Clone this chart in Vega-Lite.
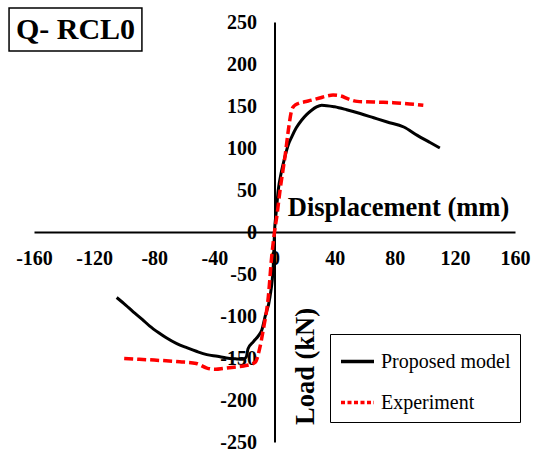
{
  "$schema": "https://vega.github.io/schema/vega-lite/v6.json",
  "width": 481,
  "height": 420,
  "autosize": {"type": "none"},
  "padding": {"left": 34, "top": 22, "right": 19, "bottom": 10},
  "background": "white",
  "config": {"view": {"stroke": null}, "font": "Liberation Serif"},
  "data": {
    "values": [
      {"series": "Proposed model", "i": 1, "x": -105, "y": -78},
      {"series": "Proposed model", "i": 2, "x": -99, "y": -87},
      {"series": "Proposed model", "i": 3, "x": -94, "y": -95},
      {"series": "Proposed model", "i": 4, "x": -88, "y": -104},
      {"series": "Proposed model", "i": 5, "x": -83, "y": -112},
      {"series": "Proposed model", "i": 6, "x": -77, "y": -120},
      {"series": "Proposed model", "i": 7, "x": -72, "y": -126},
      {"series": "Proposed model", "i": 8, "x": -65, "y": -133},
      {"series": "Proposed model", "i": 9, "x": -58, "y": -138},
      {"series": "Proposed model", "i": 10, "x": -52, "y": -142},
      {"series": "Proposed model", "i": 11, "x": -45, "y": -146},
      {"series": "Proposed model", "i": 12, "x": -38, "y": -148},
      {"series": "Proposed model", "i": 13, "x": -32, "y": -150},
      {"series": "Proposed model", "i": 14, "x": -26, "y": -151},
      {"series": "Proposed model", "i": 15, "x": -21, "y": -151.5},
      {"series": "Proposed model", "i": 16, "x": -18.8, "y": -149},
      {"series": "Proposed model", "i": 17, "x": -17.6, "y": -139},
      {"series": "Proposed model", "i": 18, "x": -14, "y": -130.5},
      {"series": "Proposed model", "i": 19, "x": -10.5, "y": -123},
      {"series": "Proposed model", "i": 20, "x": -8.5, "y": -117},
      {"series": "Proposed model", "i": 21, "x": -6.3, "y": -101},
      {"series": "Proposed model", "i": 22, "x": -3, "y": -77},
      {"series": "Proposed model", "i": 23, "x": -0.8, "y": -40},
      {"series": "Proposed model", "i": 24, "x": 0, "y": 0},
      {"series": "Proposed model", "i": 25, "x": 1.2, "y": 25},
      {"series": "Proposed model", "i": 26, "x": 2.5, "y": 50},
      {"series": "Proposed model", "i": 27, "x": 4.5, "y": 71},
      {"series": "Proposed model", "i": 28, "x": 7, "y": 90},
      {"series": "Proposed model", "i": 29, "x": 9, "y": 103},
      {"series": "Proposed model", "i": 30, "x": 11.4, "y": 113},
      {"series": "Proposed model", "i": 31, "x": 14.5, "y": 124},
      {"series": "Proposed model", "i": 32, "x": 18, "y": 133},
      {"series": "Proposed model", "i": 33, "x": 21.5, "y": 140},
      {"series": "Proposed model", "i": 34, "x": 24.7, "y": 145},
      {"series": "Proposed model", "i": 35, "x": 28, "y": 149},
      {"series": "Proposed model", "i": 36, "x": 31.4, "y": 151},
      {"series": "Proposed model", "i": 37, "x": 40, "y": 149},
      {"series": "Proposed model", "i": 38, "x": 48, "y": 145.5},
      {"series": "Proposed model", "i": 39, "x": 57, "y": 141},
      {"series": "Proposed model", "i": 40, "x": 66, "y": 136},
      {"series": "Proposed model", "i": 41, "x": 75, "y": 131},
      {"series": "Proposed model", "i": 42, "x": 86, "y": 125},
      {"series": "Proposed model", "i": 43, "x": 95, "y": 115},
      {"series": "Proposed model", "i": 44, "x": 103, "y": 107},
      {"series": "Proposed model", "i": 45, "x": 110, "y": 100},
      {"series": "Experiment", "i": 1, "x": -100, "y": -150.5},
      {"series": "Experiment", "i": 2, "x": -90, "y": -151.5},
      {"series": "Experiment", "i": 3, "x": -80, "y": -152.5},
      {"series": "Experiment", "i": 4, "x": -63, "y": -154.5},
      {"series": "Experiment", "i": 5, "x": -52, "y": -156.5},
      {"series": "Experiment", "i": 6, "x": -45, "y": -162},
      {"series": "Experiment", "i": 7, "x": -39, "y": -163.5},
      {"series": "Experiment", "i": 8, "x": -34, "y": -162.5},
      {"series": "Experiment", "i": 9, "x": -27, "y": -161},
      {"series": "Experiment", "i": 10, "x": -20.5, "y": -159.5},
      {"series": "Experiment", "i": 11, "x": -13, "y": -155.5},
      {"series": "Experiment", "i": 12, "x": -9.6, "y": -136.5},
      {"series": "Experiment", "i": 13, "x": -7.5, "y": -116.5},
      {"series": "Experiment", "i": 14, "x": -4.1, "y": -77},
      {"series": "Experiment", "i": 15, "x": -1.9, "y": -30},
      {"series": "Experiment", "i": 16, "x": 0, "y": 0},
      {"series": "Experiment", "i": 17, "x": 1.8, "y": 22},
      {"series": "Experiment", "i": 18, "x": 3.7, "y": 50},
      {"series": "Experiment", "i": 19, "x": 5.5, "y": 72},
      {"series": "Experiment", "i": 20, "x": 7, "y": 90},
      {"series": "Experiment", "i": 21, "x": 9.2, "y": 121},
      {"series": "Experiment", "i": 22, "x": 11.4, "y": 145},
      {"series": "Experiment", "i": 23, "x": 13, "y": 150},
      {"series": "Experiment", "i": 24, "x": 15.8, "y": 153},
      {"series": "Experiment", "i": 25, "x": 20, "y": 155},
      {"series": "Experiment", "i": 26, "x": 24.7, "y": 157},
      {"series": "Experiment", "i": 27, "x": 30, "y": 159.5},
      {"series": "Experiment", "i": 28, "x": 35, "y": 162},
      {"series": "Experiment", "i": 29, "x": 39, "y": 163},
      {"series": "Experiment", "i": 30, "x": 44, "y": 162},
      {"series": "Experiment", "i": 31, "x": 49, "y": 158.5},
      {"series": "Experiment", "i": 32, "x": 55, "y": 155.5},
      {"series": "Experiment", "i": 33, "x": 61, "y": 155},
      {"series": "Experiment", "i": 34, "x": 70, "y": 154.5},
      {"series": "Experiment", "i": 35, "x": 79, "y": 154},
      {"series": "Experiment", "i": 36, "x": 90, "y": 152.5},
      {"series": "Experiment", "i": 37, "x": 99, "y": 151}
    ]
  },
  "layer": [
    {
      "transform": [{"filter": "datum.series === 'Proposed model'"}],
      "mark": {"type": "line", "strokeWidth": 3, "interpolate": "monotone"},
      "encoding": {
        "x": {
          "field": "x",
          "type": "quantitative",
          "scale": {"domain": [-160, 160], "nice": false, "zero": false},
          "axis": {
            "orient": "bottom",
            "offset": -210,
            "values": [-160, -120, -80, -40, 0, 40, 80, 120, 160],
            "labelExpr": "datum.value + ''",
            "grid": false,
            "ticks": false,
            "domainColor": "black",
            "domainWidth": 2,
            "labelFont": "Liberation Serif",
            "labelFontWeight": "bold",
            "labelFontSize": 20,
            "labelColor": "black",
            "labelPadding": 16,
            "labelFlush": false,
            "labelOverlap": false,
            "title": "Displacement (mm)",
            "titleFont": "Liberation Serif",
            "titleFontWeight": "bold",
            "titleFontSize": 26.5,
            "titleColor": "black",
            "titleAlign": "center",
            "titleBaseline": "alphabetic",
            "titleX": 364,
            "titleY": -17
          }
        },
        "y": {
          "field": "y",
          "type": "quantitative",
          "scale": {"domain": [-250, 250], "nice": false, "zero": false},
          "axis": {
            "orient": "left",
            "offset": -240.5,
            "values": [-250, -200, -150, -100, -50, 0, 50, 100, 150, 200, 250],
            "labelExpr": "datum.value + ''",
            "grid": false,
            "ticks": false,
            "domainColor": "black",
            "domainWidth": 2,
            "labelFont": "Liberation Serif",
            "labelFontWeight": "bold",
            "labelFontSize": 20,
            "labelColor": "black",
            "labelPadding": 18,
            "labelFlush": false,
            "labelOverlap": false,
            "title": "Load (kN)",
            "titleFont": "Liberation Serif",
            "titleFontWeight": "bold",
            "titleFontSize": 26.5,
            "titleColor": "black",
            "titleAngle": -90,
            "titleAlign": "center",
            "titleBaseline": "alphabetic",
            "titleX": 39,
            "titleY": 344
          }
        },
        "order": {"field": "i", "type": "quantitative"},
        "color": {
          "field": "series",
          "type": "nominal",
          "scale": {"domain": ["Proposed model", "Experiment"], "range": ["#000000", "#ff0000"]},
          "legend": {
            "title": null,
            "orient": "none",
            "legendX": 296,
            "legendY": 312,
            "strokeColor": "black",
            "fillColor": "white",
            "padding": 9,
            "symbolType": "stroke",
            "symbolSize": 1089,
            "symbolStrokeWidth": 3.5,
            "labelFont": "Liberation Serif",
            "labelFontSize": 20,
            "labelColor": "black",
            "labelOffset": 5,
            "labelLimit": 300,
            "rowPadding": 12,
            "encode": {
              "symbols": {
                "update": {
                  "strokeDash": [
                    {"test": "datum.value === 'Experiment'", "value": [4, 2.5]},
                    {"value": [1, 0]}
                  ]
                }
              }
            }
          }
        }
      }
    },
    {
      "transform": [{"filter": "datum.series === 'Experiment'"}],
      "mark": {"type": "line", "strokeWidth": 3.5, "interpolate": "monotone", "strokeDash": [9, 4]},
      "encoding": {
        "x": {"field": "x", "type": "quantitative", "scale": {"domain": [-160, 160], "nice": false, "zero": false}},
        "y": {"field": "y", "type": "quantitative", "scale": {"domain": [-250, 250], "nice": false, "zero": false}},
        "order": {"field": "i", "type": "quantitative"},
        "color": {
          "field": "series",
          "type": "nominal",
          "scale": {"domain": ["Proposed model", "Experiment"], "range": ["#000000", "#ff0000"]}
        }
      }
    },
    {
      "data": {"values": [{"label": "Q- RCL0"}]},
      "mark": {"type": "rect", "fill": "white", "stroke": "black", "strokeWidth": 1.5, "clip": false},
      "encoding": {
        "x": {"datum": -176.6, "type": "quantitative"},
        "x2": {"datum": -88.2},
        "y": {"datum": 266.7, "type": "quantitative"},
        "y2": {"datum": 215.5}
      }
    },
    {
      "data": {"values": [{"label": "Q- RCL0"}]},
      "mark": {"type": "text", "font": "Liberation Serif", "fontWeight": "bold", "fontSize": 30, "align": "center", "baseline": "middle", "color": "black", "clip": false},
      "encoding": {
        "x": {"datum": -132.4, "type": "quantitative"},
        "y": {"datum": 241, "type": "quantitative"},
        "text": {"field": "label", "type": "nominal"}
      }
    }
  ]
}
